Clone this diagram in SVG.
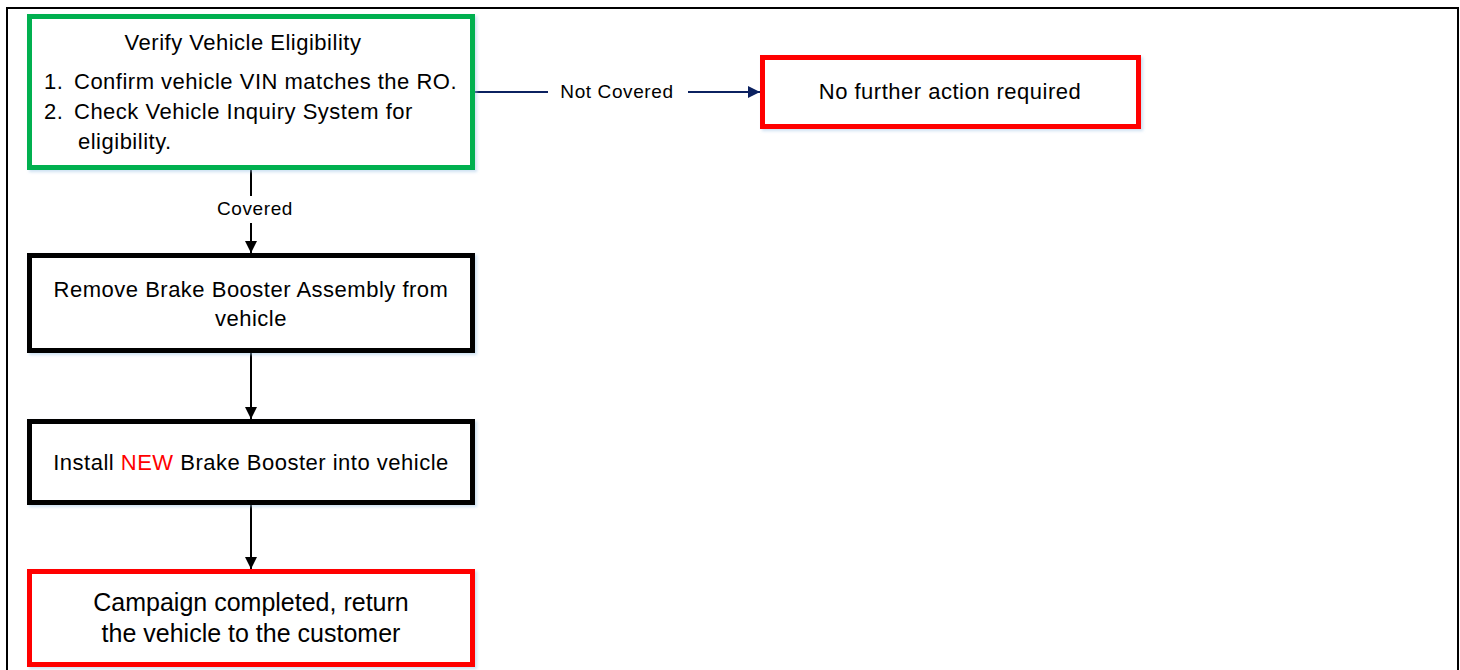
<svg xmlns="http://www.w3.org/2000/svg" width="1460" height="670" viewBox="0 0 1460 670">
  <defs>
    <style>
      .t { font-family: "Liberation Sans", Arial, sans-serif; font-size: 22px; letter-spacing: 0.5px; fill: #000; }
      .lbl { font-family: "Liberation Sans", Arial, sans-serif; font-size: 19px; letter-spacing: 0.6px; fill: #000; }
      .arial { font-family: "Liberation Sans", Arial, sans-serif; font-size: 25px; fill: #000; }
      .box { fill: #fff; stroke-width: 5; filter: url(#sh); }
      .green { stroke: #00B050; }
      .black { stroke: #000; }
      .red { stroke: #FF0000; }
      .conn { stroke: #000; stroke-width: 2; fill: none; }
      .navy { stroke: #0B2160; stroke-width: 2; fill: none; }
    </style>
    <filter id="sh" x="-5%" y="-10%" width="115%" height="130%">
      <feDropShadow dx="2" dy="2" stdDeviation="1.5" flood-color="#9DC3E6" flood-opacity="0.5"/>
    </filter>
    <marker id="ah" markerUnits="userSpaceOnUse" markerWidth="12" markerHeight="12" viewBox="0 0 10 10" refX="10" refY="5" orient="auto">
      <path d="M0,0 L10,5 L0,10 z" fill="#000"/>
    </marker>
    <marker id="ahn" markerUnits="userSpaceOnUse" markerWidth="12" markerHeight="12" viewBox="0 0 10 10" refX="10" refY="5" orient="auto">
      <path d="M0,0 L10,5 L0,10 z" fill="#0B2160"/>
    </marker>
  </defs>

  <rect x="0" y="0" width="1460" height="670" fill="#fff"/>
  <rect id="frame" x="7" y="8" width="1451" height="680" fill="none" stroke="#000" stroke-width="2"/>

  <g id="connectors">
    <line class="conn" x1="251" y1="170" x2="251" y2="196"/>
    <line class="conn" x1="251" y1="223" x2="251" y2="253" marker-end="url(#ah)"/>
    <text class="lbl" x="255" y="215" text-anchor="middle">Covered</text>
    <line class="conn" x1="251" y1="353" x2="251" y2="419" marker-end="url(#ah)"/>
    <line class="conn" x1="251" y1="505" x2="251" y2="569" marker-end="url(#ah)"/>
    <line class="navy" x1="473" y1="92" x2="548" y2="92"/>
    <line class="navy" x1="688" y1="92" x2="760" y2="92" marker-end="url(#ahn)"/>
    <text class="lbl" x="617" y="98" text-anchor="middle">Not Covered</text>
  </g>

  <g id="verify">
    <rect class="box green" x="29.5" y="16.5" width="443" height="151"/>
    <text class="t" x="243" y="50" text-anchor="middle">Verify Vehicle Eligibility</text>
    <text class="t" x="44" y="89">1.</text>
    <text class="t" x="74" y="89">Confirm vehicle VIN matches the RO.</text>
    <text class="t" x="44" y="119">2.</text>
    <text class="t" x="74" y="119">Check Vehicle Inquiry System for</text>
    <text class="t" x="78" y="149">eligibility.</text>
  </g>

  <g id="no-action">
    <rect class="box red" x="762.5" y="57.5" width="376" height="69"/>
    <text class="t" x="950" y="99" text-anchor="middle">No further action required</text>
  </g>

  <g id="remove">
    <rect class="box black" x="29.5" y="255.5" width="443" height="95"/>
    <text class="t" x="251" y="297" text-anchor="middle">Remove Brake Booster Assembly from</text>
    <text class="t" x="251" y="326" text-anchor="middle">vehicle</text>
  </g>

  <g id="install">
    <rect class="box black" x="29.5" y="421.5" width="443" height="81"/>
    <text class="t" x="251" y="470" text-anchor="middle">Install <tspan fill="#FF0000">NEW</tspan> Brake Booster into vehicle</text>
  </g>

  <g id="complete">
    <rect class="box red" x="29.5" y="571.5" width="443" height="93"/>
    <text class="arial" x="251" y="611" text-anchor="middle">Campaign completed, return</text>
    <text class="arial" x="251" y="642" text-anchor="middle">the vehicle to the customer</text>
  </g>
</svg>
